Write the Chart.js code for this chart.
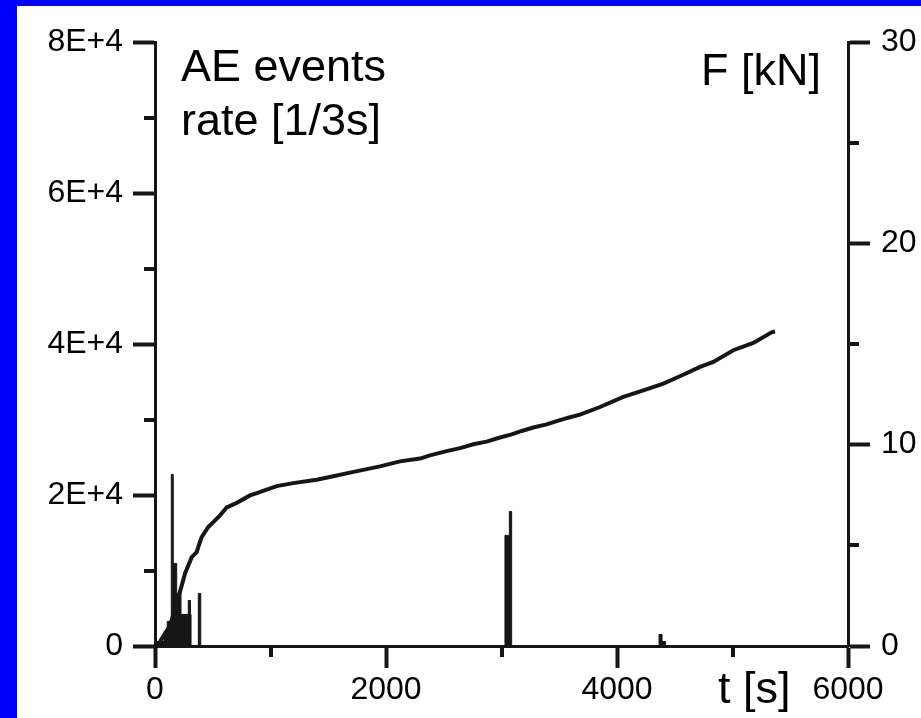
<!DOCTYPE html>
<html>
<head>
<meta charset="utf-8">
<script src="https://cdn.jsdelivr.net/npm/chart.js@4/dist/chart.umd.min.js"></script>
<style>
  html, body { margin: 0; padding: 0; background: #0000ff; width: 921px; height: 718px; overflow: hidden; }
  #wrap { position: absolute; left: 17px; top: 6px; width: 904px; height: 712px; background: #ffffff; }
</style>
</head>
<body>
<div id="wrap"><canvas id="chart" width="904" height="712"></canvas></div>
<script>
// AE events rate: bin start time [s] and rate [1/3s], value holds until the next entry
const aeTime = [15, 78, 106, 141, 158, 188, 225, 288, 307, 312, 375, 396, 3030, 3068, 3088, 4364, 4390, 4421];
const aeRate = [600, 1920, 3250, 22730, 10940, 6960, 4180, 6030, 4180, 0, 6960, 0, 14650, 17830, 0, 1520, 600, 0];

// load curve: time [s] and force [kN]
const fTime = [43, 130, 182, 236, 260, 318, 361, 384, 404, 461, 505, 563, 621, 693, 758, 823, 894, 967, 1054, 1197,
  1400, 1544, 1688, 1948, 2121, 2294, 2381, 2525, 2641, 2756, 2872, 2972, 3088, 3175, 3275, 3391, 3478, 3578, 3680, 3853,
  4055, 4228, 4401, 4545, 4719, 4834, 5007, 5180, 5339, 5368];
const fForce = [0.22, 1.0, 2.0, 3.1, 3.6, 4.41, 4.66, 5.08, 5.41, 5.91, 6.15, 6.49, 6.88, 7.07, 7.27, 7.48, 7.62, 7.77, 7.94, 8.09,
  8.26, 8.43, 8.61, 8.92, 9.17, 9.31, 9.47, 9.68, 9.83, 10.02, 10.15, 10.33, 10.51, 10.68, 10.85, 11.01, 11.17, 11.34, 11.49, 11.87,
  12.37, 12.70, 13.03, 13.40, 13.86, 14.11, 14.69, 15.05, 15.58, 15.62];

const ink = '#161616';
const tickFont = { family: 'Liberation Sans', size: 32 };
const labelFont = '45px "Liberation Sans"';
const minorLen = 11;

const minorTicks = {
  id: 'minorTicks',
  afterDraw(chart) {
    const { ctx, chartArea } = chart;
    ctx.save();
    ctx.strokeStyle = ink;
    ctx.lineWidth = 4;
    for (const id of ['x', 'y', 'y1']) {
      const s = chart.scales[id];
      const vals = s.ticks.map(t => t.value);
      for (let i = 0; i < vals.length - 1; i++) {
        const p = Math.round(s.getPixelForValue((vals[i] + vals[i + 1]) / 2));
        ctx.beginPath();
        if (id === 'x') { ctx.moveTo(p, chartArea.bottom); ctx.lineTo(p, chartArea.bottom + minorLen); }
        else if (id === 'y') { ctx.moveTo(chartArea.left, p); ctx.lineTo(chartArea.left - minorLen, p); }
        else { ctx.moveTo(chartArea.right, p); ctx.lineTo(chartArea.right + minorLen, p); }
        ctx.stroke();
      }
    }
    ctx.restore();
  },
};

const axisTexts = {
  id: 'axisTexts',
  afterDraw(chart) {
    const { ctx, chartArea: a } = chart;
    ctx.save();
    ctx.font = labelFont;
    ctx.fillStyle = '#000';
    ctx.textBaseline = 'alphabetic';
    ctx.textAlign = 'left';
    ctx.fillText('AE events', a.left + 26, a.top + 39);
    ctx.fillText('rate [1/3s]', a.left + 26, a.top + 93);
    ctx.fillText('F [kN]', a.right - 147, a.top + 43);
    ctx.fillText('t [s]', a.right - 130, a.bottom + 57);
    ctx.restore();
  },
};

function axisGrid() {
  return { display: true, drawOnChartArea: false, drawTicks: true, tickLength: 22, tickWidth: 4, tickColor: ink };
}

new Chart(document.getElementById('chart'), {
  type: 'line',
  data: {
    datasets: [
      {
        label: 'F [kN]',
        data: fTime.map((t, i) => ({ x: t, y: fForce[i] })),
        yAxisID: 'y1',
        borderColor: ink,
        borderWidth: 4,
        pointRadius: 0,
        tension: 0,
        fill: false,
      },
      {
        label: 'AE events rate',
        data: aeTime.map((t, i) => ({ x: t, y: aeRate[i] })),
        yAxisID: 'y',
        stepped: 'before',
        borderColor: ink,
        borderWidth: 1,
        backgroundColor: ink,
        pointRadius: 0,
        fill: 'origin',
      },
    ],
  },
  options: {
    responsive: false,
    animation: false,
    layout: { padding: { top: 36, left: 0, right: 0, bottom: 0 } },
    plugins: { legend: { display: false }, tooltip: { enabled: false } },
    scales: {
      x: {
        type: 'linear',
        min: 0,
        max: 6000,
        ticks: { stepSize: 2000, color: '#000', font: tickFont, padding: 3, maxRotation: 0, callback: v => String(v) },
        grid: axisGrid(),
        border: { display: true, width: 3, color: ink },
        afterFit(s) { s.height = 72; },
      },
      y: {
        position: 'left',
        min: 0,
        max: 80000,
        ticks: {
          stepSize: 20000, color: '#000', font: tickFont, padding: 10,
          callback: v => (v === 0 ? '0' : v / 10000 + 'E+4'),
        },
        grid: axisGrid(),
        border: { display: true, width: 3, color: ink },
        afterFit(s) { s.width = 138; },
      },
      y1: {
        position: 'right',
        min: 0,
        max: 30,
        ticks: { stepSize: 10, color: '#000', font: tickFont, padding: 11 },
        grid: axisGrid(),
        border: { display: true, width: 3, color: ink },
        afterFit(s) { s.width = 73; },
      },
    },
  },
  plugins: [minorTicks, axisTexts],
});
</script>
</body>
</html>
